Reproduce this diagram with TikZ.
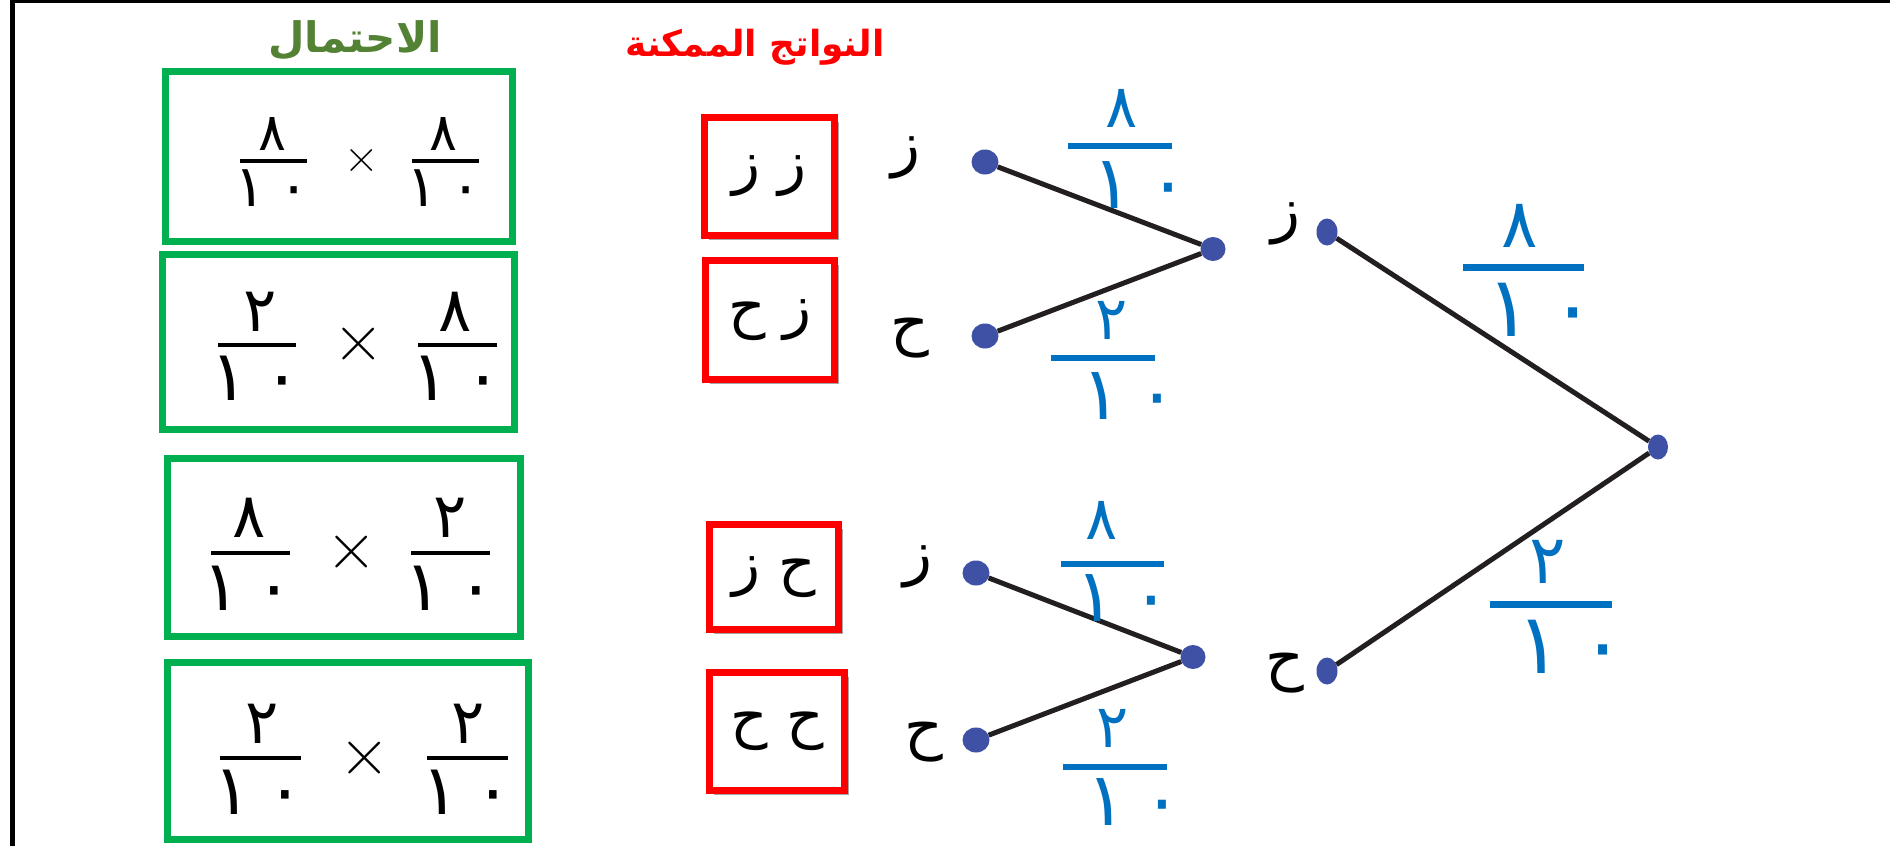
\documentclass[tikz,border=0pt]{standalone}
\usepackage{fontspec}
\usetikzlibrary{shapes.geometric,shadows}
\newfontfamily\arabicfont[Script=Arabic]{DejaVu Sans}
\TeXXeTstate=1
\definecolor{boxgreen}{HTML}{00B050}
\definecolor{titlegreen}{HTML}{548235}
\definecolor{fracblue}{HTML}{0070C0}
\definecolor{dotblue}{HTML}{3F51A5}
\definecolor{linedark}{HTML}{231F20}
\newcommand\tenval{١\kern.22em٠}
\tikzset{
  greenbox/.style={draw=boxgreen, line width=7pt, inner sep=0pt},
  redbox/.style={draw=red, fill=white, line width=7pt, inner sep=0pt,
    drop shadow={shadow xshift=4pt, shadow yshift=-4pt, opacity=0.35, fill=black},
    font=\arabicfont\fontsize{58}{62}\selectfont},
  dot/.style={ellipse, fill=dotblue, inner sep=0pt},
  edge/.style={draw=linedark, line width=5pt},
  letter/.style={inner sep=0pt, font=\arabicfont\fontsize{60}{66}\selectfont},
  boxdigs/.style={inner sep=0pt, color=black, font=\arabicfont\fontsize{52}{56}\selectfont},
  boxdigsd/.style={inner sep=0pt, color=black, font=\arabicfont\fontsize{58}{62}\selectfont},
  boxdig/.style={inner sep=0pt, color=black, font=\arabicfont\fontsize{62}{66}\selectfont},
  boxdigd/.style={inner sep=0pt, color=black, font=\arabicfont\fontsize{70}{74}\selectfont},
  bluebig/.style={inner sep=0pt, color=fracblue, font=\arabicfont\fontsize{68}{72}\selectfont},
  bluebigd/.style={inner sep=0pt, color=fracblue, font=\arabicfont\fontsize{84}{88}\selectfont},
  bluesmall/.style={inner sep=0pt, color=fracblue, font=\arabicfont\fontsize{60}{64}\selectfont},
  bluesmalld/.style={inner sep=0pt, color=fracblue, font=\arabicfont\fontsize{74}{78}\selectfont},
  multsmall/.style={inner sep=0pt, font=\fontsize{48}{52}\selectfont},
  mult/.style={inner sep=0pt, font=\fontsize{70}{74}\selectfont},
  titleg/.style={inner sep=0pt, text=titlegreen, font=\arabicfont\bfseries\fontsize{42}{50}\selectfont},
  titler/.style={inner sep=0pt, text=red, font=\arabicfont\bfseries\fontsize{36}{44}\selectfont}
}
% #1 name, #2 style, #3 bar centre, #4 bar width, #5 bar thickness, #6 numerator centre, #7 numerator, #8 denominator centre, #9 denominator
\newcommand\fr[9]{%
  \node[#2, fill, minimum width=#4, minimum height=#5] (#1b) at (#3) {};
  \node[#2] (#1n) at (#6) {#7};
  \node[#2d] (#1d) at (#8) {#9};
}
\begin{document}
\begin{tikzpicture}[x=1pt,y=-1pt]
\useasboundingbox (0,0) rectangle (1890,846);
\fill[white] (0,0) rectangle (1890,846);
% frame lines
\coordinate (fl1) at (12.5,0); \coordinate (fl2) at (12.5,846);
\coordinate (ft1) at (10,1.7); \coordinate (ft2) at (1890,1.7);
\draw[line width=5pt] (fl1) -- (fl2);
\draw[line width=3.5pt] (ft1) -- (ft2);

% titles
\node[titleg] (tprob) at (355,40) {\beginR الاحتمال\endR};
\node[titler] (tout) at (755,47) {\beginR النواتج الممكنة\endR};

% green boxes
\node[greenbox, minimum width=347, minimum height=170] (g1) at (339,156.5) {};
\node[greenbox, minimum width=352, minimum height=175] (g2) at (338.5,342) {};
\node[greenbox, minimum width=353, minimum height=178] (g3) at (344,547.5) {};
\node[greenbox, minimum width=361, minimum height=177] (g4) at (348,751) {};

\fr{f1l}{boxdigs}{273,161}{67}{4}{272,134}{٨}{272,188}{\tenval}
\fr{f1r}{boxdigs}{445,161}{67}{4}{443,134}{٨}{444,188}{\tenval}
\node[multsmall] (x1) at (362,161) {×};
\fr{f2l}{boxdig}{257,345}{78}{4}{260,312}{٢}{256,378}{\tenval}
\fr{f2r}{boxdig}{457,345}{79}{4}{455,312}{٨}{457,378}{\tenval}
\node[mult] (x2) at (359,345) {×};
\fr{f3l}{boxdig}{250,553}{79}{4}{249,518}{٨}{248,588}{\tenval}
\fr{f3r}{boxdig}{450,553}{79}{4}{450,518}{٢}{450,588}{\tenval}
\node[mult] (x3) at (352,553) {×};
\fr{f4l}{boxdig}{260,758}{81}{4}{262,724}{٢}{259,792}{\tenval}
\fr{f4r}{boxdig}{467,758}{81}{4}{468,724}{٢}{467,792}{\tenval}
\node[mult] (x4) at (365,759) {×};

% red outcome boxes
\node[redbox, minimum width=130, minimum height=118] (o1) at (769.5,176.5) {\beginR ز ز\endR};
\node[redbox, minimum width=129, minimum height=119] (o2) at (770,320) {\beginR ز ح\endR};
\node[redbox, minimum width=129, minimum height=105] (o3) at (774,577) {\beginR ح ز\endR};
\node[redbox, minimum width=135, minimum height=118] (o4) at (777,731.5) {\beginR ح ح\endR};

% tree dots
\node[dot, minimum width=20, minimum height=25] (root) at (1658,447) {};
\node[dot, minimum width=21, minimum height=27] (a1) at (1327,232) {};
\node[dot, minimum width=21, minimum height=27] (a2) at (1327,671) {};
\node[dot, minimum width=25, minimum height=24] (s1) at (1213,249) {};
\node[dot, minimum width=25, minimum height=24] (s2) at (1193,657) {};
\node[dot, minimum width=27, minimum height=25] (l1) at (985,162) {};
\node[dot, minimum width=27, minimum height=25] (l2) at (985,336) {};
\node[dot, minimum width=27, minimum height=25] (l3) at (976,573) {};
\node[dot, minimum width=27, minimum height=25] (l4) at (976,740) {};

\draw[edge] (root) -- (a1);
\draw[edge] (root) -- (a2);
\draw[edge] (s1) -- (l1);
\draw[edge] (s1) -- (l2);
\draw[edge] (s2) -- (l3);
\draw[edge] (s2) -- (l4);

% letters
\node[letter] (tz1) at (906,158) {ز};
\node[letter] (th1) at (910,338) {ح};
\node[letter] (tz2) at (918,567) {ز};
\node[letter] (th2) at (924,742) {ح};
\node[letter] (tza) at (1286,224) {ز};
\node[letter] (tha) at (1285,673) {ح};

% blue fractions
\fr{b1}{bluebig}{1523,267}{121}{7}{1520,226}{٨}{1541,310}{\tenval}
\fr{b2}{bluebig}{1551,604}{122}{7}{1548,562}{٢}{1571,647}{\tenval}
\fr{b3}{bluesmall}{1120,146}{104}{6}{1122,108}{٨}{1140,185}{\tenval}
\fr{b4}{bluesmall}{1103,358}{104}{6}{1112,320}{٢}{1129,396}{\tenval}
\fr{b5}{bluesmall}{1112,564}{103}{6}{1102,520}{٨}{1123,598}{\tenval}
\fr{b6}{bluesmall}{1115,767}{104}{6}{1113,728}{٢}{1134,802}{\tenval}
\end{tikzpicture}
\end{document}
